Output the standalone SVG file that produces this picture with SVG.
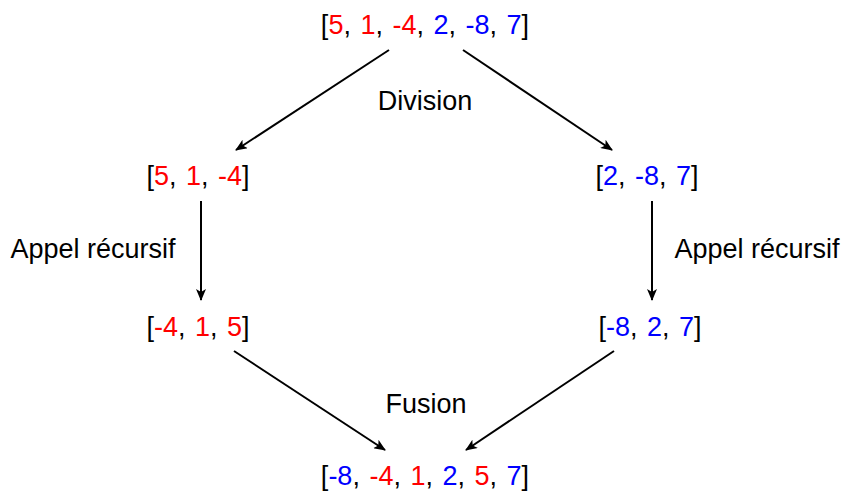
<svg xmlns="http://www.w3.org/2000/svg" width="846" height="493" viewBox="0 0 846 493">
<defs>
<marker id="ah" viewBox="0 0 12 10" refX="11" refY="5" markerWidth="12" markerHeight="10" markerUnits="userSpaceOnUse" orient="auto">
<path d="M0,0 L12,5 L0,10 L3,5 Z" fill="#000"/>
</marker>
<style>
text{font-family:"Liberation Sans",Arial,sans-serif;font-size:27px;fill:#000;text-anchor:middle}
.l{word-spacing:2px}
.r{fill:#ff0000}
.b{fill:#0000ff}
.e{stroke:#000;stroke-width:2;fill:none;marker-end:url(#ah)}
</style>
</defs>
<g id="edges">
<line class="e" x1="389" y1="50" x2="236" y2="150"/>
<line class="e" x1="463" y1="50" x2="612" y2="150"/>
<line class="e" x1="201" y1="201" x2="201" y2="300"/>
<line class="e" x1="652" y1="201" x2="652" y2="300"/>
<line class="e" x1="234" y1="351" x2="385" y2="450"/>
<line class="e" x1="614" y1="351" x2="466" y2="450"/>
</g>
<g id="labels">
<text x="425" y="110">Division</text>
<text x="93" y="258">Appel récursif</text>
<text x="757" y="258">Appel récursif</text>
<text x="426" y="413">Fusion</text>
</g>
<g id="n-top"><text class="l" x="425" y="34">[<tspan class="r">5</tspan>, <tspan class="r">1</tspan>, <tspan class="r">-4</tspan>, <tspan class="b">2</tspan>, <tspan class="b">-8</tspan>, <tspan class="b">7</tspan>]</text></g>
<g id="n-left"><text class="l" x="198" y="185">[<tspan class="r">5</tspan>, <tspan class="r">1</tspan>, <tspan class="r">-4</tspan>]</text></g>
<g id="n-right"><text class="l" x="647" y="185">[<tspan class="b">2</tspan>, <tspan class="b">-8</tspan>, <tspan class="b">7</tspan>]</text></g>
<g id="n-left-sorted"><text class="l" x="198" y="336">[<tspan class="r">-4</tspan>, <tspan class="r">1</tspan>, <tspan class="r">5</tspan>]</text></g>
<g id="n-right-sorted"><text class="l" x="650" y="336">[<tspan class="b">-8</tspan>, <tspan class="b">2</tspan>, <tspan class="b">7</tspan>]</text></g>
<g id="n-bottom"><text class="l" x="425" y="485">[<tspan class="b">-8</tspan>, <tspan class="r">-4</tspan>, <tspan class="r">1</tspan>, <tspan class="b">2</tspan>, <tspan class="r">5</tspan>, <tspan class="b">7</tspan>]</text></g>
</svg>
